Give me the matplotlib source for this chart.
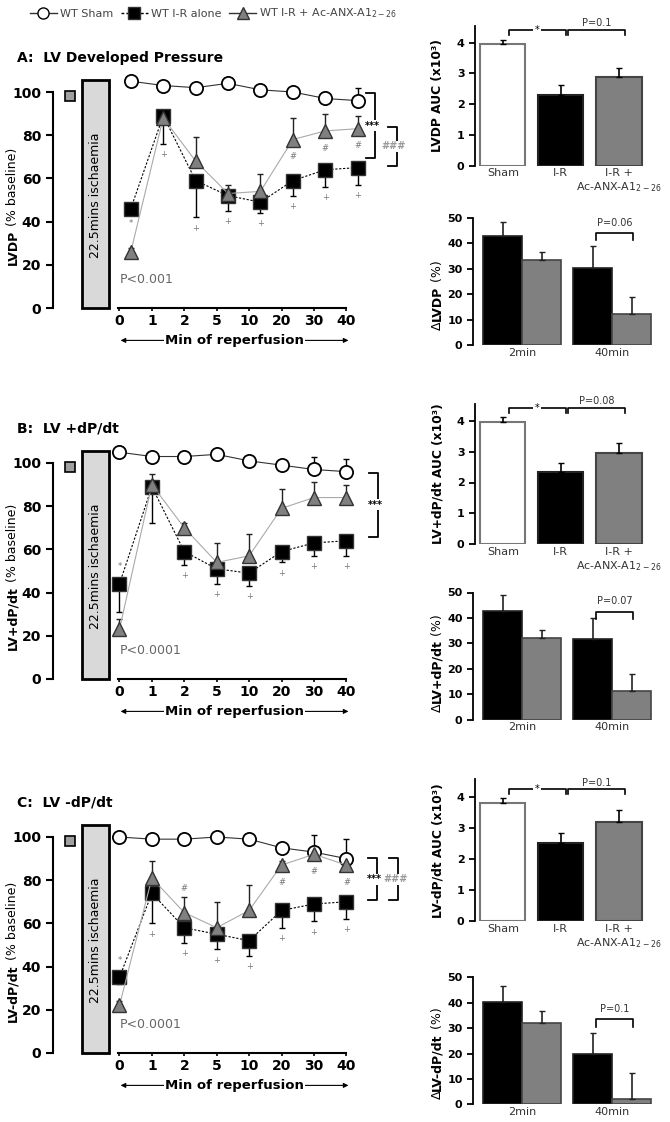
import matplotlib
matplotlib.use('Agg')
import matplotlib.pyplot as plt
import numpy as np
from matplotlib.patches import Rectangle
from matplotlib.lines import Line2D

plt.rcParams['font.family'] = ['DejaVu Sans']
plt.rcParams['mathtext.fontset'] = 'dejavusans'

times = ['0', '1', '2', '5', '10', '20', '30', '40']

# A: LV developed pressure (% baseline)
lvdp_sham = [105, 103, 102, 104, 101, 100, 97, 96]
lvdp_sham_err = [1, 1, 1, 1, 1, 1, 3, 6]
lvdp_ir = [46, 89, 59, 52, 49, 59, 64, 65]
lvdp_ir_err = [2, 13, 17, 7, 5, 7, 8, 8]
lvdp_trt = [26, 88, 68, 53, 54, 78, 82, 83]
lvdp_trt_err = [2, 3, 11, 4, 8, 10, 8, 6]

# B: LV +dP/dt
pdp_sham = [105, 103, 103, 104, 101, 99, 97, 96]
pdp_sham_err = [1, 1, 1, 1, 1, 1, 6, 6]
pdp_ir = [44, 89, 59, 51, 49, 59, 63, 64]
pdp_ir_err = [13, 17, 6, 7, 6, 5, 6, 7]
pdp_trt = [23, 90, 70, 54, 57, 79, 84, 84]
pdp_trt_err = [5, 5, 2, 9, 10, 9, 7, 6]

# C: LV -dP/dt
ndp_sham = [100, 99, 99, 100, 99, 95, 93, 90]
ndp_sham_err = [1, 1, 1, 1, 1, 1, 8, 9]
ndp_ir = [35, 74, 58, 55, 52, 66, 69, 70]
ndp_ir_err = [3, 14, 7, 7, 7, 8, 8, 8]
ndp_trt = [22, 81, 65, 58, 66, 87, 92, 87]
ndp_trt_err = [2, 8, 7, 12, 12, 2, 3, 3]

line_p = ['P<0.001', 'P<0.0001', 'P<0.0001']

auc_groups = ['Sham', 'I-R', 'I-R +\nAc-ANX-A1$_{2-26}$']
lvdp_auc = [3.95, 2.3, 2.9]
lvdp_auc_err = [0.13, 0.32, 0.27]
pdp_auc = [3.97, 2.35, 2.96]
pdp_auc_err = [0.16, 0.29, 0.33]
ndp_auc = [3.81, 2.5, 3.17]
ndp_auc_err = [0.14, 0.34, 0.4]
auc_p = ['P=0.1', 'P=0.08', 'P=0.1']

delta_times = ['2min', '40min']
lvdp_d_ir = [42.9, 30.5]
lvdp_d_ir_err = [5.5, 8.4]
lvdp_d_trt = [33.4, 12.3]
lvdp_d_trt_err = [3.4, 6.5]
pdp_d_ir = [42.8, 31.8]
pdp_d_ir_err = [6.3, 8.0]
pdp_d_trt = [32.2, 11.4]
pdp_d_trt_err = [3.0, 6.6]
ndp_d_ir = [40.3, 19.8]
ndp_d_ir_err = [6.4, 8.4]
ndp_d_trt = [31.9, 2.0]
ndp_d_trt_err = [4.8, 10.5]
delta_p = ['P=0.06', 'P=0.07', 'P=0.1']

GRAY = '#808080'
FH = 1122.0


def frac_y(px):
    return 1 - px / FH


def stacked_label(ax, x, y, parts, size):
    t = ax.text(x, y, parts[0][0], transform=ax.transAxes, rotation=90, ha='center',
                va='bottom', fontweight=parts[0][1], fontsize=size)
    for s, w in parts[1:]:
        t = ax.annotate(s, xy=(0.5, 1), xycoords=t, rotation=90, ha='center', va='bottom',
                        fontweight=w, fontsize=size)


def bold_ticks(ax, size):
    ax.tick_params(labelsize=size)
    for lbl in ax.get_xticklabels() + ax.get_yticklabels():
        lbl.set_fontweight('bold')


def line_panel(y0, title, ylab, sham, sham_e, ir, ir_e, trt, trt_e, ptxt, shift,
               ir_marks, hash_marks, brackets):
    ax = fig.add_axes([53 / 670, frac_y(y0), 389 / 670, 237.6 / FH])
    ax.set_facecolor('none')
    n = len(times)
    ticks = 2.05 + np.arange(n)
    xs = ticks + shift
    zero = np.zeros(n)
    ax.add_patch(Rectangle((0.9, 0), 0.82, 105.5, fc='#d9d9d9', ec='black', lw=2, clip_on=False))
    ax.text(1.31, 52, '22.5mins ischaemia', rotation=90, ha='center', va='center', fontsize=9)
    ax.plot(0.52, 98, marker='s', ms=7, mfc='#a0a0a0', mec='black', mew=1.2, clip_on=False)

    ax.errorbar(xs, sham, yerr=[zero, sham_e], fmt='none', ecolor='black', elinewidth=1, capsize=2.5, zorder=2)
    ax.errorbar(xs, ir, yerr=[ir_e, zero], fmt='none', ecolor='black', elinewidth=1, capsize=2.5, zorder=2)
    ax.errorbar(xs, trt, yerr=[zero, trt_e], fmt='none', ecolor='#222', elinewidth=1, capsize=2.5, zorder=2)
    ax.plot(xs, sham, color='#333', lw=0.8, marker='o', ms=9.5, mfc='white', mec='black', mew=1.3, zorder=3, clip_on=False)
    ax.plot(xs, ir, color='black', lw=0.8, ls=(0, (2, 1.5)), marker='s', ms=9.5, mfc='black', mec='#333', zorder=4)
    ax.plot(xs, trt, color='#aaaaaa', lw=0.8, marker='^', ms=10, mfc=GRAY, mec='#333', zorder=5)

    for i, sym, side in ir_marks:
        yv = ir[i] - ir_e[i] - 5 if side == 'below' else ir[i] + 8
        ax.text(xs[i], yv, sym, ha='center', va='center', fontsize=6, color='#777', zorder=6)
    for i, side in hash_marks:
        yv = trt[i] - 8 if side == 'below' else trt[i] + trt_e[i] + 4
        ax.text(xs[i], yv, '#', ha='center', va='center', fontsize=6, color='#777', zorder=6)

    for bx, top, bot, lab, col in brackets:
        ax.plot([bx - 0.28, bx, bx, bx - 0.28], [top, top, bot, bot], color='black', lw=1.3, clip_on=False)
        ax.text(bx - 0.08, (top + bot) / 2, lab, ha='center', va='center', fontsize=7, color=col,
                fontweight='bold', bbox=dict(fc='white', ec='none', pad=0.5))

    ax.text(2.05, 13, ptxt, ha='left', va='center', fontsize=9, color='#666')
    ax.annotate('', xy=(2.0, -15), xytext=(9.2, -15),
                arrowprops=dict(arrowstyle='<|-|>', lw=0.8, color='black', mutation_scale=7),
                annotation_clip=False)
    ax.text(5.6, -15, 'Min of reperfusion', ha='center', va='center', fontsize=9.5, fontweight='bold',
            bbox=dict(fc='white', ec='none', pad=1))

    ax.set_xlim(0, 12)
    ax.set_ylim(0, 110)
    ax.set_xticks(ticks)
    ax.set_xticklabels(times)
    ax.set_yticks(np.arange(0, 101, 20))
    for s in ['top', 'right']:
        ax.spines[s].set_visible(False)
    ax.spines['left'].set_bounds(0, 100)
    ax.spines['bottom'].set_bounds(2.0, 9.05)
    ax.spines['left'].set_linewidth(1.5)
    ax.spines['bottom'].set_linewidth(1.5)
    ax.tick_params(axis='y', length=5, width=1.5)
    ax.tick_params(axis='x', length=2, width=1.2, pad=2)
    bold_ticks(ax, 10)
    stacked_label(ax, -0.103, ylab[2], [(ylab[0], 'bold'), (' (% baseline)', 'normal')], 9)
    fig.text(17 / 670, frac_y(y0 - 250), title, fontsize=10, fontweight='bold', va='center', ha='left')
    return ax


def auc_panel(y0, scale, ylab, vals, errs, ptxt, by):
    ax = fig.add_axes([475 / 670, frac_y(y0), 170 / 670, 4.55 * scale / FH])
    ax.set_facecolor('none')
    x = np.arange(len(vals))
    ax.bar(x, vals, width=0.78, color=['white', 'black', GRAY], edgecolor=['#777', '#222', '#444'], lw=1.5)
    ax.errorbar(x, vals, yerr=[np.zeros(3), errs], fmt='none', ecolor='black', elinewidth=1.2, capsize=2.5)
    ax.plot([0.1, 0.1, 1.08, 1.08], [by - 0.15, by, by, by - 0.15], color='black', lw=1.2, clip_on=False)
    ax.text(0.59, by, '*', ha='center', va='center', fontsize=7, bbox=dict(fc='white', ec='none', pad=1))
    ax.plot([1.12, 1.12, 2.1, 2.1], [by - 0.15, by, by, by - 0.15], color='black', lw=1.2, clip_on=False)
    ax.text(1.61, by + 0.06, ptxt, ha='center', va='bottom', fontsize=7, color='#333')
    ax.set_xlim(-0.48, 2.45)
    ax.set_ylim(0, 4.55)
    ax.set_xticks(x)
    ax.set_xticklabels(auc_groups, fontsize=8, color='#333')
    ax.set_yticks(range(5))
    for s in ['top', 'right', 'bottom']:
        ax.spines[s].set_visible(False)
    ax.spines['left'].set_linewidth(1.3)
    ax.tick_params(axis='x', length=0, pad=2)
    ax.tick_params(axis='y', length=4, width=1.3)
    for lbl in ax.get_yticklabels():
        lbl.set_fontweight('bold')
        lbl.set_fontsize(8)
    ax.set_ylabel(ylab, fontsize=8.8, fontweight='bold')
    ax.yaxis.set_label_coords(-0.18, 0.5)
    return ax


def delta_panel(y0, ylab, lab_y, ir, ir_e, trt, trt_e, ptxt, by):
    ax = fig.add_axes([473 / 670, frac_y(y0), 179 / 670, 127 / FH])
    ax.set_facecolor('none')
    xi = np.array([0.5, 2.81])
    ax.bar(xi, ir, width=1, color='black', edgecolor='#222', lw=1.2)
    ax.bar(xi + 1, trt, width=1, color=GRAY, edgecolor='#444', lw=1.2)
    ax.errorbar(xi, ir, yerr=[np.zeros(2), ir_e], fmt='none', ecolor='#222', elinewidth=1.2, capsize=2.5)
    ax.errorbar(xi + 1, trt, yerr=[np.zeros(2), trt_e], fmt='none', ecolor='#222', elinewidth=1.2, capsize=2.5)
    ax.plot([2.9, 2.9, 3.85, 3.85], [by - 3, by, by, by - 3], color='black', lw=1.2)
    ax.text(3.37, by + 2, ptxt, ha='center', va='bottom', fontsize=7, color='#333')
    ax.set_xlim(-0.26, 4.33)
    ax.set_ylim(0, 50)
    ax.set_xticks(xi + 0.5)
    ax.set_xticklabels(delta_times, fontsize=8, color='#333')
    ax.set_yticks(range(0, 51, 10))
    for s in ['top', 'right', 'bottom']:
        ax.spines[s].set_visible(False)
    ax.spines['left'].set_linewidth(1.3)
    ax.tick_params(axis='x', length=0, pad=2)
    ax.tick_params(axis='y', length=4, width=1.3)
    for lbl in ax.get_yticklabels():
        lbl.set_fontweight('bold')
        lbl.set_fontsize(8)
    stacked_label(ax, -0.2, lab_y, [('\u0394', 'normal'), (ylab, 'bold'), (' (%)', 'normal')], 9)
    return ax


fig = plt.figure(figsize=(6.7, 11.22), dpi=100)

line_panel(308, 'A:  LV Developed Pressure', ('LVDP', 0, 0.18),
           lvdp_sham, lvdp_sham_err, lvdp_ir, lvdp_ir_err, lvdp_trt, lvdp_trt_err, line_p[0], 0.35,
           [(0, '*', 'below')] + [(i, '+', 'below') for i in range(1, 8)],
           [(5, 'below'), (6, 'below'), (7, 'below')],
           [(9.94, 99.4, 69.3, '***', 'black'), (10.6, 84, 65.7, '###', '#999')])
line_panel(679, 'B:  LV +dP/dt', ('LV+dP/dt', 0, 0.122),
           pdp_sham, pdp_sham_err, pdp_ir, pdp_ir_err, pdp_trt, pdp_trt_err, line_p[1], 0.0,
           [(0, '*', 'above')] + [(i, '+', 'below') for i in range(2, 8)],
           [],
           [(10.03, 95.5, 65.9, '***', 'black')])
line_panel(1053, 'C:  LV -dP/dt', ('LV-dP/dt', 0, 0.132),
           ndp_sham, ndp_sham_err, ndp_ir, ndp_ir_err, ndp_trt, ndp_trt_err, line_p[2], 0.0,
           [(0, '*', 'above')] + [(i, '+', 'below') for i in range(1, 8)],
           [(2, 'above'), (5, 'below'), (6, 'below'), (7, 'below')],
           [(9.99, 90.1, 70.8, '***', 'black'), (10.65, 90.1, 70.8, '###', '#999')])

auc_panel(165.7, 30.75, 'LVDP AUC (x10\u00b3)', lvdp_auc, lvdp_auc_err, auc_p[0], 4.41)
auc_panel(544.3, 30.9, 'LV+dP/dt AUC (x10\u00b3)', pdp_auc, pdp_auc_err, auc_p[1], 4.4)
auc_panel(921, 31.1, 'LV-dP/dt AUC (x10\u00b3)', ndp_auc, ndp_auc_err, auc_p[2], 4.23)

delta_panel(345, 'LVDP', 0.12, lvdp_d_ir, lvdp_d_ir_err, lvdp_d_trt, lvdp_d_trt_err, delta_p[0], 44.2)
delta_panel(719.5, 'LV+dP/dt', 0.06, pdp_d_ir, pdp_d_ir_err, pdp_d_trt, pdp_d_trt_err, delta_p[1], 42.5)
delta_panel(1104.3, 'LV-dP/dt', 0.04, ndp_d_ir, ndp_d_ir_err, ndp_d_trt, ndp_d_trt_err, delta_p[2], 33.4)

handles = [
    Line2D([], [], color='#333', lw=1, marker='o', ms=8, mfc='white', mec='black'),
    Line2D([], [], color='black', lw=1, ls=(0, (2, 1.5)), marker='s', ms=8, mfc='black', mec='#333'),
    Line2D([], [], color='#333', lw=1, marker='^', ms=9, mfc=GRAY, mec='#333'),
]
labels = ['WT Sham', 'WT I-R alone', 'WT I-R + Ac-ANX-A1$_{2-26}$']
fig.legend(handles, labels, loc='upper left', bbox_to_anchor=(0.035, 1.0), ncol=3, frameon=False,
           fontsize=8, handlelength=2.4, columnspacing=0.7, handletextpad=0.3, labelcolor='#444',
           borderaxespad=0.2)

fig.savefig('out.png', dpi=100)
